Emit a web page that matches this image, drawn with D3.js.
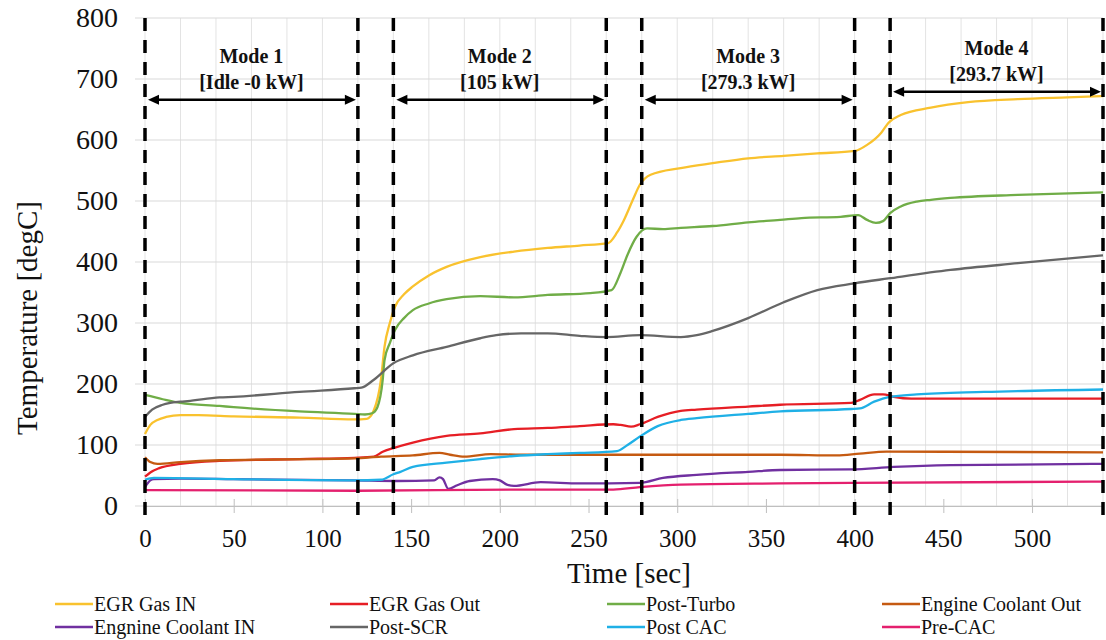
<!DOCTYPE html>
<html>
<head>
<meta charset="utf-8">
<script src="https://cdn.jsdelivr.net/npm/d3@7"></script>
<style>
  html, body { margin: 0; padding: 0; background: #fff; }
  svg { display: block; font-family: "Liberation Serif", "Times New Roman", serif; }
</style>
</head>
<body>
<svg id="chart" width="1106" height="640"></svg>
<script>
// Temperature traces over the four engine operating modes (time [s], temperature [degC])
const egrGasIn = [[0,118],[3,133],[7,141],[12,146],[20,149],[30,149],[50,147],[87,145],[118,142],[125,143],[129,157],[133,207],[135,261],[138,300],[141,327],[146,347],[151,360],[160,378],[170,392],[189,408],[208,417],[227,423],[245,427],[261,431],[266,448],[270,469],[275,502],[279,527],[285,543],[302,554],[320,562],[340,570],[360,574],[379,578],[400,582],[407,592],[415,612],[419,628],[426,641],[443,653],[464,662],[492,667],[520,670],[540,672]];
const egrGasOut = [[0,48],[3,55],[8,62],[20,69],[42,74],[87,77],[118,79],[129,81],[134,89],[140,95],[151,104],[170,115],[189,119],[208,126],[227,128],[245,131],[264,134],[268,133],[274,130],[279,134],[289,146],[302,156],[311,158],[340,163],[358,166],[398,169],[403,174],[411,183],[416,183],[422,179],[432,176],[540,176]];
const postTurbo = [[0,182],[10,175],[20,169],[42,164],[50,162],[87,155],[118,151],[124,150],[128,152],[131,162],[134,207],[135,239],[138,267],[141,289],[146,308],[151,321],[160,332],[170,339],[189,344],[208,342],[227,346],[251,349],[263,354],[268,382],[272,412],[277,441],[283,455],[292,454],[302,456],[320,459],[340,465],[358,469],[370,472],[392,474],[402,477],[407,469],[412,464],[416,467],[420,480],[426,491],[435,499],[443,502],[454,505],[492,510],[540,514]];
const engineCoolantOut = [[0,80],[3,72],[7,69],[20,72],[42,75],[118,78],[133,81],[151,83],[166,87],[172,84],[180,81],[195,85],[212,84],[245,84],[358,84],[390,83],[403,86],[418,89],[540,88]];
const engineCoolantIn = [[0,31],[3,42],[5,44],[20,45],[50,44],[118,42],[142,41],[163,42],[166,47],[168,44],[171,28],[176,34],[183,41],[196,44],[200,42],[204,35],[208,33],[223,39],[245,37],[279,38],[292,46],[311,51],[340,56],[358,59],[398,60],[422,64],[454,67],[540,69]];
const postScr = [[0,146],[4,158],[10,166],[20,171],[24,172],[42,178],[50,179],[87,187],[118,193],[122,194],[129,207],[140,234],[151,247],[170,261],[189,275],[198,280],[212,283],[227,283],[245,279],[260,277],[279,280],[302,277],[311,280],[320,287],[340,308],[360,334],[379,354],[400,365],[419,373],[454,387],[492,398],[540,411]];
const postCac = [[0,43],[5,46],[50,44],[118,42],[133,43],[140,52],[144,56],[151,64],[170,71],[189,77],[208,82],[227,85],[245,87],[266,90],[272,100],[279,114],[289,131],[302,141],[311,144],[340,151],[358,155],[398,159],[403,160],[411,171],[420,179],[435,183],[473,187],[540,191]];
const preCac = [[0,26],[120,25],[208,27],[264,27],[279,31],[302,35],[358,37],[398,38],[540,40]];

const seriesNames = ["EGR Gas IN","EGR Gas Out","Post-Turbo","Engine Coolant Out","Engnine Coolant IN","Post-SCR","Post CAC","Pre-CAC"];
const seriesData = [egrGasIn, egrGasOut, postTurbo, engineCoolantOut, engineCoolantIn, postScr, postCac, preCac];
const seriesColors = ["#F9C22E","#E61E25","#70AD47","#C55A11","#7030A0","#666666","#1FB0E6","#E4206E"];

// Mode windows and their labels
const modeStarts = [0, 140, 280, 420];
const modeEnds = [120, 260, 400, 540];
const modeTitles = ["Mode 1","Mode 2","Mode 3","Mode 4"];
const modePowers = ["[Idle -0 kW]","[105 kW]","[279.3 kW]","[293.7 kW]"];
const modeArrowLevels = [666, 666, 666, 679];
const boundaries = [0, 120, 140, 260, 280, 400, 420, 540];

const xTicks = [0,50,100,150,200,250,300,350,400,450,500];
const yTicks = [0,100,200,300,400,500,600,700,800];
const xGrid = d3.range(0, 541, 20);

const svg = d3.select("#chart");
const x = d3.scaleLinear().domain([0, 540]).range([145, 1103]);
const y = d3.scaleLinear().domain([0, 800]).range([506, 18]);

// Gridlines
const grid = svg.append("g");
grid.selectAll("line.v").data(xGrid).join("line")
  .attr("x1", d => x(d)).attr("x2", d => x(d))
  .attr("y1", y(800)).attr("y2", y(0))
  .attr("stroke", "#e3e3e3").attr("stroke-width", 1);
grid.selectAll("line.h").data(yTicks).join("line")
  .attr("x1", x(0) - 10).attr("x2", x(540))
  .attr("y1", d => y(d)).attr("y2", d => y(d))
  .attr("stroke", "#d9d9d9").attr("stroke-width", 1);

// X axis
const xAxis = svg.append("g").attr("transform", `translate(0,${y(0)})`)
  .call(d3.axisBottom(x).tickValues(xTicks).tickSizeInner(7).tickSizeOuter(0).tickPadding(16));
xAxis.select(".domain").attr("stroke", "#bfbfbf").attr("stroke-width", 1.2);
xAxis.selectAll(".tick line").attr("stroke", "#bfbfbf").attr("y1", -7).attr("y2", 7);
xAxis.selectAll(".tick text").attr("font-family", "Liberation Serif").attr("font-size", 25).attr("fill", "#111");

// Y axis labels
const yAxis = svg.append("g").attr("transform", `translate(${x(0)},0)`)
  .call(d3.axisLeft(y).tickValues(yTicks).tickSize(0).tickPadding(27));
yAxis.select(".domain").remove();
yAxis.selectAll(".tick text").attr("font-family", "Liberation Serif").attr("font-size", 28).attr("fill", "#111");

// Axis titles
svg.append("text").attr("x", 629).attr("y", 583).attr("text-anchor", "middle")
  .attr("font-size", 29).attr("fill", "#111").text("Time [sec]");
svg.append("text").attr("transform", "translate(37,318) rotate(-90)").attr("text-anchor", "middle")
  .attr("font-size", 29).attr("fill", "#111").text("Temperature [degC]");

// Series
const line = d3.line().x(d => x(d[0])).y(d => y(d[1])).curve(d3.curveMonotoneX);
svg.append("g").selectAll("path").data(seriesData).join("path")
  .attr("d", line).attr("fill", "none")
  .attr("stroke", (d, i) => seriesColors[i]).attr("stroke-width", 2.3)
  .attr("stroke-linejoin", "round");

// Mode boundary lines
svg.append("g").selectAll("line").data(boundaries).join("line")
  .attr("x1", d => x(d)).attr("x2", d => x(d))
  .attr("y1", y(800)).attr("y2", y(0) + 10)
  .attr("stroke", "#000").attr("stroke-width", 3.5).attr("stroke-dasharray", "13,9");

// Mode arrows and labels
const modes = svg.append("g");
modeStarts.forEach((s, i) => {
  const x1 = x(s) + 3, x2 = x(modeEnds[i]) - 2, ya = y(modeArrowLevels[i]);
  const head = 11, half = 5;
  modes.append("line").attr("x1", x1 + head - 2).attr("x2", x2 - head + 2)
    .attr("y1", ya).attr("y2", ya).attr("stroke", "#000").attr("stroke-width", 2.6);
  modes.append("path").attr("d", `M${x1},${ya} L${x1 + head},${ya - half} L${x1 + head},${ya + half} Z`).attr("fill", "#000");
  modes.append("path").attr("d", `M${x2},${ya} L${x2 - head},${ya - half} L${x2 - head},${ya + half} Z`).attr("fill", "#000");
  const cx = (x(s) + x(modeEnds[i])) / 2;
  modes.append("text").attr("x", cx).attr("y", ya - 37).attr("text-anchor", "middle")
    .attr("font-size", 20).attr("font-weight", "bold").attr("fill", "#111").text(modeTitles[i]);
  modes.append("text").attr("x", cx).attr("y", ya - 11).attr("text-anchor", "middle")
    .attr("font-size", 20).attr("font-weight", "bold").attr("fill", "#111").text(modePowers[i]);
});

// Legend: two rows of four entries
const legendCols = [55, 330, 607, 882];
const legendRows = [604, 627];
const legend = svg.append("g");
seriesNames.forEach((name, i) => {
  const cx = legendCols[i % 4], cy = legendRows[Math.floor(i / 4)];
  legend.append("line").attr("x1", cx).attr("x2", cx + 38).attr("y1", cy).attr("y2", cy)
    .attr("stroke", seriesColors[i]).attr("stroke-width", 2.5);
  legend.append("text").attr("x", cx + 39).attr("y", cy + 7)
    .attr("font-size", 20).attr("fill", "#111").text(name);
});
</script>
</body>
</html>
